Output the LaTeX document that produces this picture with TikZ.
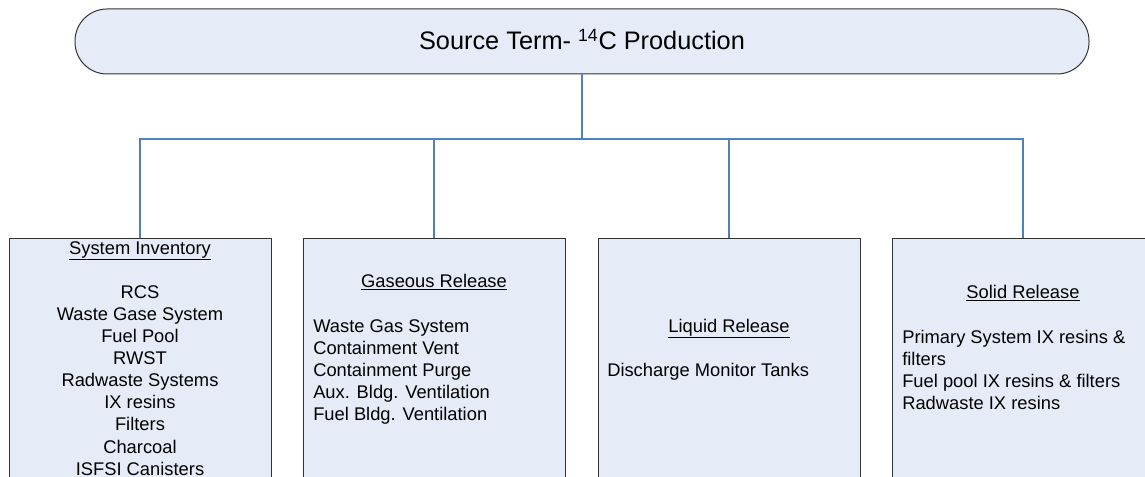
\documentclass[tikz,border=0pt]{standalone}
\usepackage{fontspec}
\setmainfont{Liberation Sans}
\definecolor{boxfill}{HTML}{E6ECF7}
\definecolor{wireblue}{HTML}{4F81BD}
\definecolor{edge}{HTML}{333333}
\tikzset{
  panel/.style={draw=edge, line width=0.75pt, fill=boxfill, minimum width=196.5pt, minimum height=210pt, anchor=north, inner sep=0pt},
  wire/.style={draw=wireblue, line width=1pt},
  head/.style={anchor=base, inner sep=0pt, font=\fontsize{13.75}{16.5}\selectfont},
  items/.style={anchor=north west, inner sep=0pt, align=left, font=\fontsize{13.75}{16.6}\selectfont},
  itemsc/.style={anchor=north, inner sep=0pt, align=center, font=\fontsize{13.75}{16.6}\selectfont}
}
\begin{document}
\begin{tikzpicture}[x=0.75pt,y=-0.75pt]
\useasboundingbox (0,0) rectangle (1145,477);
\clip (0,0) rectangle (1145,477);

\node [draw=edge, line width=0.75pt, fill=boxfill, rounded corners=24pt, minimum width=760.5pt, minimum height=48.75pt, inner sep=0pt] (title) at (582,41.5) {};
\node [anchor=base, inner sep=0pt, font=\fontsize{19}{22}\selectfont] (titletext) at (582,50) {Source Term- \textsuperscript{14}C Production};

\node [panel] (inv) at (140,238) {};
\node [panel] (gas) at (434,238) {};
\node [panel] (liq) at (729,238) {};
\node [panel] (sol) at (1023,238) {};

\coordinate (bus) at (582,139);
\draw [wire] (title.south) -- (bus);
\draw [wire] (inv.north) -- (inv.north |- bus) -- (sol.north |- bus) -- (sol.north);
\draw [wire] (gas.north |- bus) -- (gas.north);
\draw [wire] (liq.north |- bus) -- (liq.north);

\node [head] (invhead) at (140,254) {\underline{System Inventory}};
\node [itemsc] (invlist) at (140,285) {RCS\\Waste Gase System\\Fuel Pool\\RWST\\Radwaste Systems\\IX resins\\Filters\\Charcoal\\ISFSI Canisters};

\node [head] (gashead) at (434,287) {\underline{Gaseous Release}};
\node [items] (gaslist) at (313,319) {Waste Gas System\\Containment Vent\\Containment Purge\\Aux. Bldg. Ventilation\\Fuel Bldg. Ventilation};

\node [head] (liqhead) at (729,332) {\underline{Liquid Release}};
\node [items] (liqlist) at (607,363) {Discharge Monitor Tanks};

\node [head] (solhead) at (1023,298) {\underline{Solid Release}};
\node [items] (sollist) at (902,330) {Primary System IX resins \&\\filters\\Fuel pool IX resins \& filters\\Radwaste IX resins};
\end{tikzpicture}
\end{document}
